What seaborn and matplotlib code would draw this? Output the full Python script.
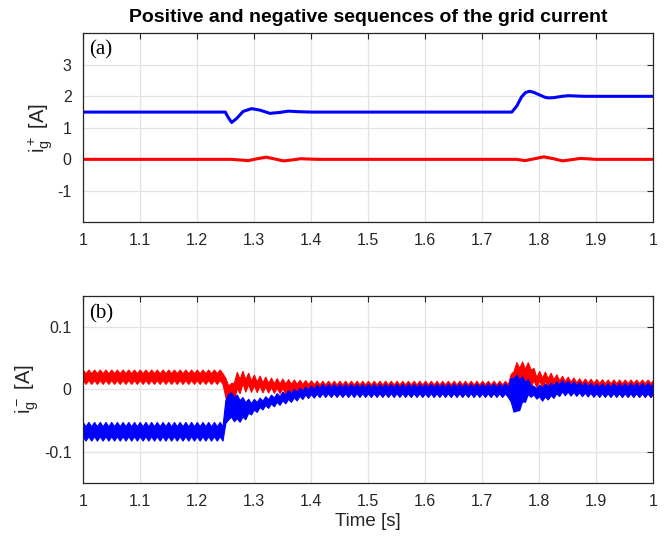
import numpy as np
import pandas as pd
import matplotlib
matplotlib.use("Agg")
import matplotlib.pyplot as plt
import seaborn as sns

# ---------------- data ----------------
# Panel (a): positive sequence of the grid current [A]
t_pos_blue = [1.0, 1.25, 1.255, 1.261, 1.27, 1.281, 1.296, 1.311, 1.328, 1.346, 1.36, 1.381, 1.40,
              1.752, 1.761, 1.769, 1.776, 1.783, 1.79, 1.80, 1.81, 1.816, 1.826, 1.84, 1.851,
              1.865, 1.88, 2.0]
i_pos_blue = [1.5, 1.5, 1.33, 1.17, 1.30, 1.52, 1.61, 1.56, 1.46, 1.49, 1.53, 1.51, 1.50,
              1.5, 1.7, 1.98, 2.12, 2.16, 2.13, 2.05, 1.97, 1.95, 1.96, 2.0, 2.02,
              2.01, 2.0, 2.0]
t_pos_red = [1.0, 1.26, 1.29, 1.306, 1.322, 1.337, 1.352, 1.367, 1.382, 1.41,
             1.76, 1.775, 1.792, 1.808, 1.825, 1.841, 1.857, 1.872, 1.9, 2.0]
i_pos_red = [0.0, 0.0, -0.04, 0.02, 0.07, 0.01, -0.05, -0.02, 0.02, 0.0,
             0.0, -0.04, 0.02, 0.08, 0.02, -0.05, -0.01, 0.03, 0.0, 0.0]

# Panel (b): negative sequence [A] -- envelope (low / high) and ripple peak-to-peak
t_neg_red = [1.0, 1.248, 1.251, 1.262, 1.268, 1.28, 1.30, 1.33, 1.37, 1.42, 1.748,
             1.752, 1.762, 1.785, 1.792, 1.815, 1.84, 1.87, 1.92, 2.0]
lo_neg_red = [0.009, 0.009, -0.030, -0.025, -0.010, -0.003, -0.004, -0.005, -0.007, -0.010, -0.011,
              0.000, 0.005, 0.004, 0.004, 0.004, -0.002, -0.008, -0.011, -0.012]
hi_neg_red = [0.032, 0.032, 0.012, 0.010, 0.028, 0.030, 0.024, 0.019, 0.016, 0.014, 0.014,
              0.036, 0.046, 0.043, 0.031, 0.028, 0.022, 0.018, 0.016, 0.016]
rip_neg_red = [0.006, 0.006, 0.005, 0.005, 0.011, 0.013, 0.011, 0.009, 0.007, 0.006, 0.006,
               0.009, 0.011, 0.011, 0.011, 0.010, 0.008, 0.007, 0.006, 0.006]

t_neg_blue = [1.0, 1.248, 1.251, 1.258, 1.270, 1.282, 1.295, 1.315, 1.335, 1.36, 1.39, 1.42,
              1.748, 1.751, 1.760, 1.770, 1.782, 1.790, 1.805, 1.820, 1.840, 1.860, 1.90, 2.0]
lo_neg_blue = [-0.082, -0.082, -0.048, -0.048, -0.053, -0.050, -0.040, -0.032, -0.027, -0.021, -0.014, -0.012,
               -0.012, -0.032, -0.040, -0.026, -0.011, -0.013, -0.018, -0.015, -0.009, -0.010, -0.012, -0.012]
hi_neg_blue = [-0.052, -0.052, 0.001, -0.004, -0.008, -0.013, -0.016, -0.012, -0.007, -0.001, 0.005, 0.009,
               0.010, 0.023, 0.024, 0.021, 0.016, 0.006, 0.009, 0.011, 0.015, 0.013, 0.010, 0.011]
rip_neg_blue = [0.007, 0.007, 0.005, 0.005, 0.007, 0.007, 0.006, 0.006, 0.006, 0.006, 0.006, 0.006,
                0.006, 0.006, 0.006, 0.007, 0.006, 0.005, 0.006, 0.006, 0.006, 0.006, 0.006, 0.006]

ripple_period = 0.01  # s (read from tooth spacing)

x_ticks = [1.0, 1.1, 1.2, 1.3, 1.4, 1.5, 1.6, 1.7, 1.8, 1.9, 2.0]
x_ticklabels = ["1", "1.1", "1.2", "1.3", "1.4", "1.5", "1.6", "1.7", "1.8", "1.9", "1"]
y_ticks_a = [-1, 0, 1, 2, 3]
y_ticklabels_a = ["-1", "0", "1", "2", "3"]
y_ticks_b = [-0.1, 0.0, 0.1]
y_ticklabels_b = ["-0.1", "0", "0.1"]

title = "Positive and negative sequences of the grid current"

# ---------------- style ----------------
sns.set_theme(style="whitegrid")
plt.rcParams["font.family"] = ["Liberation Sans", "DejaVu Sans"]
plt.rcParams["axes.unicode_minus"] = False
plt.rcParams["mathtext.default"] = "regular"

AX = "#262626"
fig = plt.figure(figsize=(6.69, 5.41), dpi=100)
fig.patch.set_facecolor("white")
ax1 = fig.add_axes([0.1236, 0.589, 0.853, 0.3494])
ax2 = fig.add_axes([0.1236, 0.1072, 0.853, 0.3457])


def style(ax, yticks, ylabels, ylim):
    ax.set_facecolor("white")
    ax.set_xlim(1.0, 2.0)
    ax.set_ylim(*ylim)
    ax.set_xticks(x_ticks)
    ax.set_xticklabels(x_ticklabels)
    ax.set_yticks(yticks)
    ax.set_yticklabels(ylabels)
    ax.grid(True, color="#e3e3e3", linewidth=0.9)
    ax.set_axisbelow(True)
    for s in ax.spines.values():
        s.set_visible(True)
        s.set_color(AX)
        s.set_linewidth(0.9)
    ax.tick_params(direction="in", top=True, right=True, length=4, width=0.8,
                   color=AX, labelcolor=AX, labelsize=11.5)
    ax.tick_params(axis="x", pad=8)
    ax.tick_params(axis="y", pad=8)


# ---------------- panel (a) ----------------
df_red = pd.DataFrame({"t": t_pos_red, "i": i_pos_red})
df_blue = pd.DataFrame({"t": t_pos_blue, "i": i_pos_blue})
sns.lineplot(data=df_red, x="t", y="i", ax=ax1, color="#ff0000", linewidth=2.2)
sns.lineplot(data=df_blue, x="t", y="i", ax=ax1, color="#0000ff", linewidth=2.2)
style(ax1, y_ticks_a, y_ticklabels_a, (-2, 4))
ax1.set_xlabel("")
ax1.set_ylabel(r"i$_g^+$ [A]", fontsize=14.5, color=AX, labelpad=2)
ax1.set_title(title, fontsize=14, fontweight="bold", color="black", pad=8)
ax1.text(0.011, 0.965, "(a)", transform=ax1.transAxes, ha="left", va="top",
         fontsize=15, family=["Liberation Serif", "DejaVu Serif"], color="black")

# ---------------- panel (b) ----------------
t_grid = np.arange(1.0, 2.0 + 1e-9, ripple_period / 2)
phase = np.where(np.arange(len(t_grid)) % 2 == 0, 1.0, -1.0)


def band(ax, t_k, lo_k, hi_k, rip_k, color):
    lo = np.interp(t_grid, t_k, lo_k)
    hi = np.interp(t_grid, t_k, hi_k)
    rp = np.interp(t_grid, t_k, rip_k)
    upper = hi - rp / 2 + phase * rp / 2
    lower = lo + rp / 2 + phase * rp / 2
    ax.fill_between(t_grid, lower, upper, color=color, linewidth=0.8, edgecolor=color)


band(ax2, t_neg_red, lo_neg_red, hi_neg_red, rip_neg_red, "#ff0000")
band(ax2, t_neg_blue, lo_neg_blue, hi_neg_blue, rip_neg_blue, "#0000ff")
style(ax2, y_ticks_b, y_ticklabels_b, (-0.15, 0.15))
ax2.set_xlabel("Time [s]", fontsize=13.5, color=AX, labelpad=3)
ax2.set_ylabel(r"i$_g^-$ [A]", fontsize=14.5, color=AX, labelpad=2)
ax2.text(0.011, 0.955, "(b)", transform=ax2.transAxes, ha="left", va="top",
         fontsize=15, family=["Liberation Serif", "DejaVu Serif"], color="black")

fig.savefig("out.png", dpi=100, facecolor="white")
